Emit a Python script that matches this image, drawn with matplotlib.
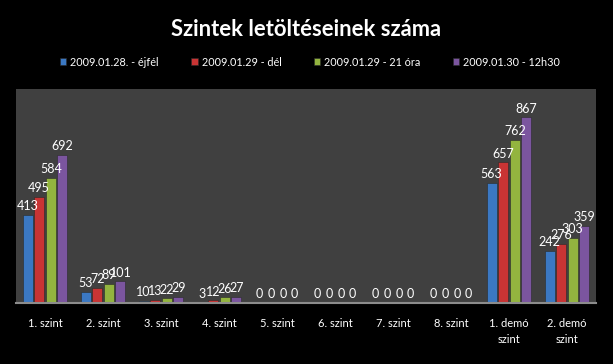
import matplotlib
matplotlib.use("Agg")
import matplotlib.pyplot as plt
import numpy as np

plt.rcParams['font.family'] = ['Lato', 'DejaVu Sans']

categories = ['1. szint', '2. szint', '3. szint', '4. szint', '5. szint',
              '6. szint', '7. szint', '8. szint', '1. demó\nszint', '2. demó\nszint']
series_names = ['2009.01.28. - éjfél', '2009.01.29 - dél',
                '2009.01.29 - 21 óra', '2009.01.30 - 12h30']
ejfel = [413, 53, 10, 3, 0, 0, 0, 0, 563, 242]
del_ = [495, 72, 13, 12, 0, 0, 0, 0, 657, 276]
ora21 = [584, 89, 22, 26, 0, 0, 0, 0, 762, 303]
h1230 = [692, 101, 29, 27, 0, 0, 0, 0, 867, 359]
colors = ['#3b78c3', '#c93434', '#93b43f', '#7b559f']


def creating_plot():
    fig = plt.figure(figsize=(6.13, 3.64), dpi=100, facecolor='black')
    ax = fig.add_axes([16 / 613, 61 / 364, 580 / 613, 214 / 364])
    ax.set_facecolor('#404040')

    x = np.arange(len(categories))
    pitch = 0.2
    handles = []
    for i, vals in enumerate([ejfel, del_, ora21, h1230]):
        pos = x + (i - 1.5) * pitch
        bars = ax.bar(pos, vals, width=0.175, color=colors[i],
                      edgecolor='#2a2a2a', linewidth=0.4, label=series_names[i])
        handles.append(bars)
        for p, v in zip(pos, vals):
            ax.annotate(str(v), (p, v), xytext=(0, 2), textcoords='offset points',
                        ha='center', va='bottom', color='white', fontsize=9)

    ax.set_xlim(-0.5, len(categories) - 0.5)
    ax.set_ylim(0, 1000)
    ax.set_yticks([])
    ax.set_xticks(x)
    ax.set_xticklabels(categories, color='white', fontsize=8, linespacing=1.5)
    ax.tick_params(axis='x', length=0, pad=11)
    for s in ['top', 'right', 'left']:
        ax.spines[s].set_visible(False)
    ax.spines['bottom'].set_color('#8c8c8c')
    ax.spines['bottom'].set_linewidth(1.5)

    fig.text(0.5, 1 - 29 / 364, 'Szintek letöltéseinek száma', ha='center', va='center',
             color='white', fontsize=15.8, fontweight='bold')
    fig.legend(handles=handles, loc='center', bbox_to_anchor=(310 / 613, 1 - 62 / 364),
               ncol=4, frameon=False, fontsize=7.8, handlelength=0.6, handleheight=0.6,
               handletextpad=0.35, columnspacing=3.0, labelcolor='white')
    fig.savefig('out.png', dpi=100, facecolor='black')


def main():
    creating_plot()


if __name__ == '__main__':
    main()
